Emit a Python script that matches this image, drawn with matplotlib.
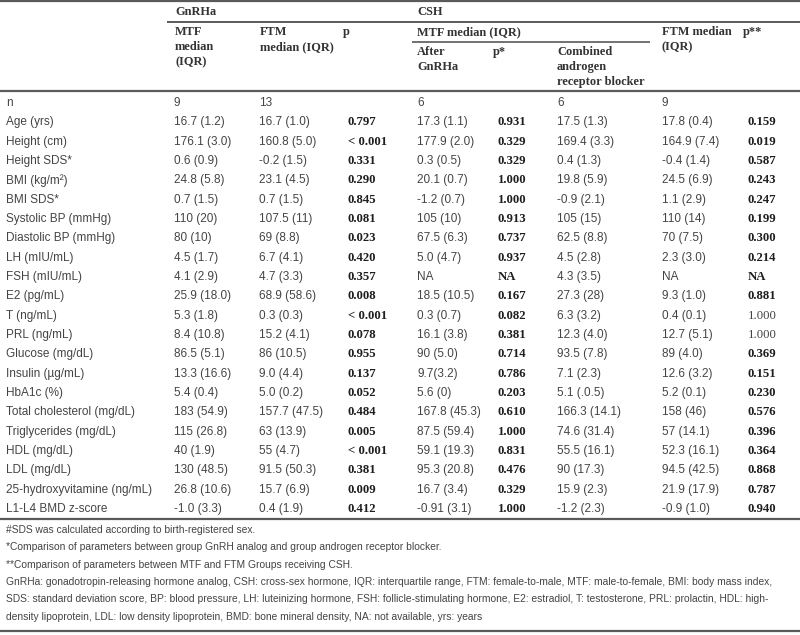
import matplotlib
matplotlib.use('Agg')
import matplotlib.pyplot as plt

labels = ['n', 'Age (yrs)', 'Height (cm)', 'Height SDS*', 'BMI (kg/m\u00b2)', 'BMI SDS*',
          'Systolic BP (mmHg)', 'Diastolic BP (mmHg)', 'LH (mIU/mL)', 'FSH (mIU/mL)',
          'E2 (pg/mL)', 'T (ng/mL)', 'PRL (ng/mL)', 'Glucose (mg/dL)', 'Insulin (\u00b5g/mL)',
          'HbA1c (%)', 'Total cholesterol (mg/dL)', 'Triglycerides (mg/dL)', 'HDL (mg/dL)',
          'LDL (mg/dL)', '25-hydroxyvitamine (ng/mL)', 'L1-L4 BMD z-score']

gnrha_mtf = ['9', '16.7 (1.2)', '176.1 (3.0)', '0.6 (0.9)', '24.8 (5.8)', '0.7 (1.5)', '110 (20)',
             '80 (10)', '4.5 (1.7)', '4.1 (2.9)', '25.9 (18.0)', '5.3 (1.8)', '8.4 (10.8)',
             '86.5 (5.1)', '13.3 (16.6)', '5.4 (0.4)', '183 (54.9)', '115 (26.8)', '40 (1.9)',
             '130 (48.5)', '26.8 (10.6)', '-1.0 (3.3)']
gnrha_ftm = ['13', '16.7 (1.0)', '160.8 (5.0)', '-0.2 (1.5)', '23.1 (4.5)', '0.7 (1.5)', '107.5 (11)',
             '69 (8.8)', '6.7 (4.1)', '4.7 (3.3)', '68.9 (58.6)', '0.3 (0.3)', '15.2 (4.1)',
             '86 (10.5)', '9.0 (4.4)', '5.0 (0.2)', '157.7 (47.5)', '63 (13.9)', '55 (4.7)',
             '91.5 (50.3)', '15.7 (6.9)', '0.4 (1.9)']
gnrha_p = ['', '0.797', '< 0.001', '0.331', '0.290', '0.845', '0.081', '0.023', '0.420', '0.357',
           '0.008', '< 0.001', '0.078', '0.955', '0.137', '0.052', '0.484', '0.005', '< 0.001',
           '0.381', '0.009', '0.412']
csh_after = ['6', '17.3 (1.1)', '177.9 (2.0)', '0.3 (0.5)', '20.1 (0.7)', '-1.2 (0.7)', '105 (10)',
             '67.5 (6.3)', '5.0 (4.7)', 'NA', '18.5 (10.5)', '0.3 (0.7)', '16.1 (3.8)', '90 (5.0)',
             '9.7(3.2)', '5.6 (0)', '167.8 (45.3)', '87.5 (59.4)', '59.1 (19.3)', '95.3 (20.8)',
             '16.7 (3.4)', '-0.91 (3.1)']
csh_p1 = ['', '0.931', '0.329', '0.329', '1.000', '1.000', '0.913', '0.737', '0.937', 'NA', '0.167',
          '0.082', '0.381', '0.714', '0.786', '0.203', '0.610', '1.000', '0.831', '0.476', '0.329',
          '1.000']
csh_comb = ['6', '17.5 (1.3)', '169.4 (3.3)', '0.4 (1.3)', '19.8 (5.9)', '-0.9 (2.1)', '105 (15)',
            '62.5 (8.8)', '4.5 (2.8)', '4.3 (3.5)', '27.3 (28)', '6.3 (3.2)', '12.3 (4.0)',
            '93.5 (7.8)', '7.1 (2.3)', '5.1 (.0.5)', '166.3 (14.1)', '74.6 (31.4)', '55.5 (16.1)',
            '90 (17.3)', '15.9 (2.3)', '-1.2 (2.3)']
csh_ftm = ['9', '17.8 (0.4)', '164.9 (7.4)', '-0.4 (1.4)', '24.5 (6.9)', '1.1 (2.9)', '110 (14)',
           '70 (7.5)', '2.3 (3.0)', 'NA', '9.3 (1.0)', '0.4 (0.1)', '12.7 (5.1)', '89 (4.0)',
           '12.6 (3.2)', '5.2 (0.1)', '158 (46)', '57 (14.1)', '52.3 (16.1)', '94.5 (42.5)',
           '21.9 (17.9)', '-0.9 (1.0)']
csh_p2 = ['', '0.159', '0.019', '0.587', '0.243', '0.247', '0.199', '0.300', '0.214', 'NA', '0.881',
          '1.000', '1.000', '0.369', '0.151', '0.230', '0.576', '0.396', '0.364', '0.868', '0.787',
          '0.940']
csh_p2_plain = ['T (ng/mL)', 'PRL (ng/mL)']

footnotes = [
    '#SDS was calculated according to birth-registered sex.',
    '*Comparison of parameters between group GnRH analog and group androgen receptor blocker.',
    '**Comparison of parameters between MTF and FTM Groups receiving CSH.',
    'GnRHa: gonadotropin-releasing hormone analog, CSH: cross-sex hormone, IQR: interquartile range, '
    'FTM: female-to-male, MTF: male-to-female, BMI: body mass index,',
    'SDS: standard deviation score, BP: blood pressure, LH: luteinizing hormone, FSH: follicle-stimulating '
    'hormone, E2: estradiol, T: testosterone, PRL: prolactin, HDL: high-',
    'density lipoprotein, LDL: low density lipoprotein, BMD: bone mineral density, NA: not available, yrs: years',
]

TXT = '#444444'
BOLD = '#1e1e1e'
LINE = '#5a5a5a'
SANS = 'Liberation Sans'
SERIF = 'Liberation Serif'

fig = plt.figure(figsize=(8, 6.35), dpi=100)
ax = fig.add_axes([0, 0, 1, 1])
ax.set_xlim(0, 800)
ax.set_ylim(635, 0)
ax.axis('off')


def hline(x0, x1, y, lw=1.6):
    ax.plot([x0, x1], [y, y], color=LINE, lw=lw, solid_capstyle='butt')


hline(0, 800, 1)
hline(167, 800, 22, 1.4)
hline(412, 650, 42, 1.2)
hline(0, 800, 91)
hline(0, 800, 519)
hline(0, 800, 631)

hdr = dict(fontsize=8.9, family=SERIF, fontweight='bold', color='#333333', linespacing=1.33)


def header(x, y, s, va='top'):
    ax.text(x, y, s, va=va, **hdr)


header(175, 12, 'GnRHa', 'center')
header(417, 12, 'CSH', 'center')
header(175, 26, 'MTF\nmedian\n(IQR)')
header(260, 26, 'FTM\nmedian (IQR)')
header(343, 26, 'p')
header(417, 32, 'MTF median (IQR)', 'center')
header(662, 26, 'FTM median\n(IQR)')
header(743, 26, 'p**')
header(417, 46, 'After\nGnRHa')
header(493, 46, 'p*')
header(557, 46, 'Combined\nandrogen\nreceptor blocker')

columns = [(gnrha_mtf, 174, False), (gnrha_ftm, 259, False), (gnrha_p, 348, True),
           (csh_after, 417, False), (csh_p1, 498, True), (csh_comb, 557, False),
           (csh_ftm, 662, False), (csh_p2, 748, True)]

for i, label in enumerate(labels):
    y = 103 + i * 19.33
    ax.text(6, y, label, fontsize=8.45, family=SANS, color=TXT, va='center')
    for values, x, is_p in columns:
        val = values[i]
        if is_p:
            bold = not (values is csh_p2 and label in csh_p2_plain)
            ax.text(x, y, val, fontsize=9.2, family=SERIF,
                    fontweight='bold' if bold else 'normal',
                    color=BOLD if bold else TXT, va='center')
        else:
            ax.text(x, y, val, fontsize=8.45, family=SANS, color=TXT, va='center')

for j, note in enumerate(footnotes):
    ax.text(6, 530 + j * 17.3, note, fontsize=7.35, family=SANS, color=TXT, va='center')

fig.savefig('out.png', dpi=100)
